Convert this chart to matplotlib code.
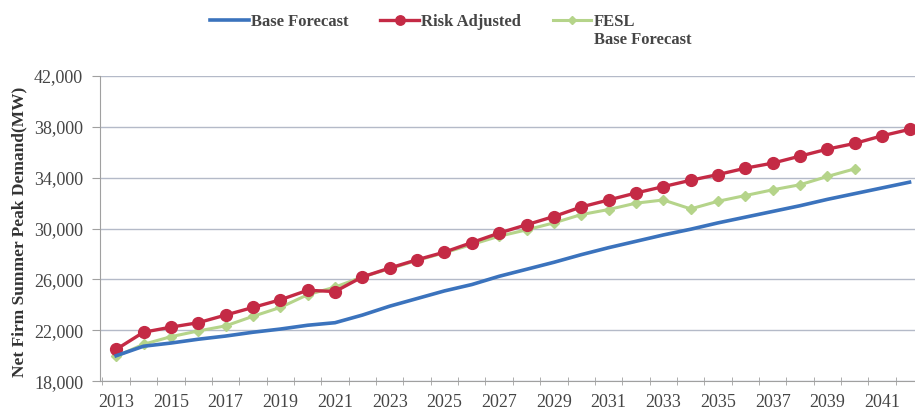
import matplotlib
matplotlib.use("Agg")
import matplotlib.pyplot as plt
from matplotlib.ticker import FuncFormatter, FixedLocator

years = list(range(2013, 2043))

base_forecast = [20000, 20750, 21000, 21300, 21550, 21850, 22100, 22400, 22600,
                 23200, 23900, 24500, 25100, 25600, 26250, 26800, 27350, 27950,
                 28500, 29000, 29500, 29950, 30450, 30900, 31350, 31800, 32300,
                 32750, 33200, 33650]

risk_adjusted = [20500, 21850, 22250, 22600, 23200, 23800, 24400, 25150, 25050,
                 26200, 26900, 27550, 28150, 28900, 29650, 30300, 30950, 31700,
                 32250, 32800, 33300, 33800, 34250, 34750, 35150, 35700, 36250,
                 36700, 37300, 37800]

fesl_years = list(range(2013, 2041))
fesl_base = [19950, 20900, 21500, 21950, 22350, 23100, 23800, 24800, 25400,
             26200, 26850, 27500, 28100, 28750, 29400, 29900, 30450, 31100,
             31500, 32000, 32250, 31550, 32150, 32600, 33050, 33450, 34100,
             34700]

y_ticks = [18000, 22000, 26000, 30000, 34000, 38000, 42000]
x_label_years = list(range(2013, 2042, 2))

serif = ["Liberation Serif", "DejaVu Serif"]
plt.rcParams['font.family'] = serif

fig = plt.figure(figsize=(9.15, 4.13), dpi=100)
ax = fig.add_axes([0.109, 0.077, 0.891, 0.739])

blue = "#3b73bd"
red = "#c42a45"
green = "#b5d48a"

ax.plot(fesl_years, fesl_base, color=green, lw=2.2, marker="D", ms=5,
        label="FESL", zorder=3)
ax.plot(years, risk_adjusted, color=red, lw=2.4, marker="o", ms=8.5,
        label="Risk Adjusted", zorder=4)
ax.plot(years, base_forecast, color=blue, lw=2.6, label="Base Forecast", zorder=5)

ax.set_ylim(18000, 42000)
ax.set_xlim(2012.4, 2042.2)
ax.yaxis.set_major_locator(FixedLocator(y_ticks))
ax.yaxis.set_major_formatter(FuncFormatter(lambda v, p: f"{int(v):,}"))
ax.xaxis.set_major_locator(FixedLocator(x_label_years))
ax.xaxis.set_major_formatter(FuncFormatter(lambda v, p: f"{int(round(v))}"))
ax.xaxis.set_minor_locator(FixedLocator([y + 0.5 for y in range(2012, 2043)]))

ax.grid(axis="y", color="#b4bac8", lw=1.0)
ax.set_axisbelow(True)
for s in ["top", "right"]:
    ax.spines[s].set_visible(False)
ax.spines["left"].set_color("#a0a0a0")
ax.spines["bottom"].set_color("#a0a0a0")

ax.tick_params(axis="y", labelsize=13, colors="#a0a0a0", labelcolor="#454545",
               length=6, direction="out", pad=6)
ax.tick_params(axis="x", which="major", labelsize=13, labelcolor="#454545",
               length=0, pad=9)
ax.tick_params(axis="x", which="minor", length=6, direction="inout", colors="#a0a0a0")

ax.set_ylabel("Net Firm Summer Peak Demand(MW)", fontsize=12.5, fontweight="bold",
              color="#333333", labelpad=6)
ax.yaxis.set_label_coords(-0.089, 0.49)

handles, labels = ax.get_legend_handles_labels()
order = [2, 1, 0]
leg = fig.legend([handles[i] for i in order], [labels[i] for i in order],
                 loc="upper center", bbox_to_anchor=(0.462, 1.0), ncol=3,
                 frameon=False, prop={"family": serif, "size": 12, "weight": "bold"},
                 handlelength=2.3, handletextpad=0.15, columnspacing=1.9,
                 markerscale=0.8, borderaxespad=0.45)
for t in leg.get_texts():
    t.set_color("#454545")

fig.canvas.draw()
fesl_txt = leg.get_texts()[2]
bb = fesl_txt.get_window_extent()
x0, y0 = fig.transFigure.inverted().transform((bb.x0, bb.y0))
fig.text(x0, y0 - 0.005, "Base Forecast", ha="left", va="top",
         family=serif, fontsize=12, fontweight="bold", color="#454545")

fig.savefig("out.png", dpi=100)
